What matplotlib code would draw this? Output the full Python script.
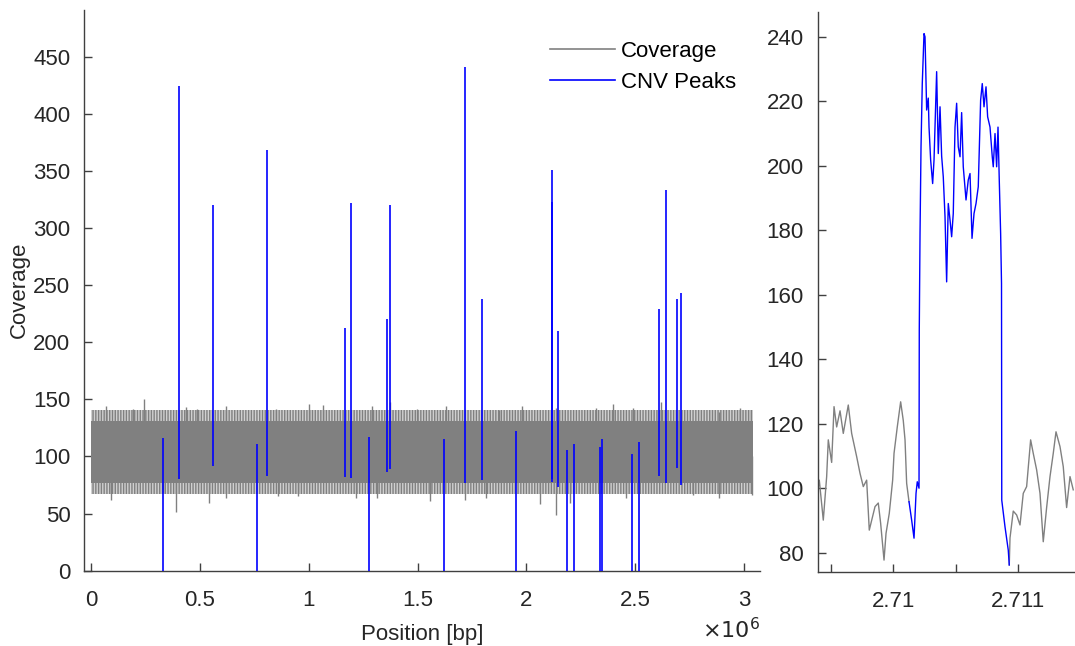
import numpy as np
import matplotlib
matplotlib.use('Agg')
import matplotlib.pyplot as plt
from matplotlib.lines import Line2D
from matplotlib.ticker import FuncFormatter

plt.rcParams['font.family'] = ['Liberation Sans', 'DejaVu Sans']
plt.rcParams['font.size'] = 16
plt.rcParams['hatch.linewidth'] = 1.0
plt.rcParams['hatch.color'] = '#808080'

# ---- data ----
# coverage band envelope (position in bp, values in coverage)
band_x = [0, 3.04e6]
band_core = (77, 131)
band_fringe = (67, 141)

# single coverage spikes outside the band (position, height)
spike_up_x = [0.069e6, 0.194e6, 0.243e6, 0.436e6, 0.488e6, 0.622e6, 0.852e6, 0.999e6,
              1.066e6, 1.292e6, 1.375e6, 1.497e6, 1.632e6, 1.876e6, 1.980e6, 2.136e6,
              2.317e6, 2.399e6, 2.491e6, 2.618e6, 2.882e6, 2.980e6]
spike_up_y = [143.8, 142, 150.2, 143, 142, 144, 142, 146,
              145, 144, 148, 142, 144, 141, 144, 142.6,
              142.6, 146, 142.6, 148, 139, 142.6]
spike_dn_x = [0.09e6, 0.33e6, 0.390e6, 0.543e6, 0.622e6, 0.86e6, 0.951e6, 1.219e6,
              1.314e6, 1.555e6, 1.717e6, 1.815e6, 2.06e6, 2.136e6, 2.202e6, 2.457e6,
              2.763e6, 2.885e6, 3.035e6]
spike_dn_y = [62, 68, 51.7, 59, 64, 65.6, 65.6, 63.5,
              63.5, 60.6, 62, 63.5, 58.5, 48.8, 59, 63.4,
              66, 63.4, 66]

# CNV peaks: position, lowest and highest coverage of the blue segment
peak_x = [0.329e6, 0.402e6, 0.561e6, 0.763e6, 0.809e6, 1.165e6, 1.196e6, 1.275e6,
          1.358e6, 1.372e6, 1.622e6, 1.717e6, 1.797e6, 1.953e6, 2.116e6, 2.119e6,
          2.147e6, 2.185e6, 2.217e6, 2.336e6, 2.347e6, 2.483e6, 2.517e6, 2.610e6,
          2.641e6, 2.691e6, 2.708e6]
peak_lo = [0, 80, 92, 0, 83, 82, 81.5, 0,
           86, 89, 0, 76.6, 79, 0, 78, 80,
           73.6, 0, 0, 0, 0, 0, 0, 83,
           77, 90, 75]
peak_hi = [116, 424, 320, 111, 368, 212.5, 322, 117,
           220, 320, 115, 441, 238, 122, 351, 323,
           209.5, 106, 111, 108, 115, 102, 113, 229,
           333, 238, 243]

# zoomed region around 2.7105 Mbp
zoom_gray1_x = [2709392, 2709408, 2709440, 2709467, 2709480, 2709507, 2709526, 2709547,
                2709574, 2709600, 2709640, 2709667, 2709707, 2709734, 2709760, 2709787,
                2709808, 2709854, 2709880, 2709899, 2709926, 2709942, 2709968, 2709995,
                2710006, 2710032, 2710059, 2710080, 2710094, 2710107, 2710126]
zoom_gray1_y = [98.4, 102.5, 90.1, 103.6, 115, 108, 125.3, 119,
                124, 117, 125.8, 117, 109.8, 104.6, 100.5, 102.5,
                87, 94.3, 95.4, 89.1, 77.7, 86, 92.2, 102.5,
                110.8, 119, 126.8, 121, 115, 101.5, 95.8]
zoom_blue_x = [2710126, 2710147, 2710166, 2710182, 2710192, 2710206, 2710208, 2710214,
               2710222, 2710232, 2710246, 2710254, 2710267, 2710280, 2710286, 2710299,
               2710315, 2710326, 2710347, 2710360, 2710374, 2710387, 2710400, 2710414,
               2710427, 2710440, 2710454, 2710467, 2710480, 2710494, 2710507, 2710520,
               2710534, 2710547, 2710560, 2710582, 2710600, 2710614, 2710630, 2710646,
               2710662, 2710680, 2710699, 2710712, 2710726, 2710742, 2710755, 2710774,
               2710792, 2710800, 2710814, 2710827, 2710838, 2710848, 2710859, 2710866,
               2710868, 2710894, 2710920, 2710928]
zoom_blue_y = [95.8, 90.1, 84.5, 98.4, 102, 100, 149, 179,
               205.9, 225.5, 241, 240, 217.3, 221, 212, 201.8,
               194.5, 201.8, 229.2, 203.8, 218.3, 203, 196.6, 184.2,
               164, 188.3, 183.2, 178, 185.2, 212, 219.4, 205.9,
               202.8, 216.5, 199.7, 189.4, 195.6, 197.6, 177.5, 185.2,
               188.3, 193.5, 220.4, 225.5, 218.3, 224.5, 215.2, 212,
               202.8, 199.7, 210, 199.7, 212, 195.6, 179, 163.5,
               96.3, 88, 80.8, 76.2]
zoom_gray2_x = [2710928, 2710934, 2710960, 2710987, 2711014, 2711040, 2711067, 2711099,
                2711120, 2711147, 2711174, 2711200, 2711227, 2711254, 2711280, 2711302,
                2711334, 2711360, 2711387, 2711414, 2711440]
zoom_gray2_y = [76.2, 84.6, 92.9, 91.7, 88.6, 98.4, 100.5, 115,
                110.8, 105.7, 98.4, 83.4, 94, 103.6, 110.8, 117.5,
                112.9, 106.7, 94, 103.6, 99.5]

gray = '#808080'
blue = '#0000ff'
axcol = '#404040'

fig = plt.figure(figsize=(10.75, 6.46), dpi=100)
ax = fig.add_axes([0.0784, 0.1166, 0.6285, 0.868])
ax2 = fig.add_axes([0.7605, 0.115, 0.2395, 0.8664])

# ---- left panel ----
ax.fill_between(band_x, band_fringe[0], band_fringe[1], facecolor='#d0d0d0',
                hatch='||||||', lw=0, zorder=1)
ax.fill_between(band_x, band_core[0], band_core[1], color=gray, lw=0, zorder=2)
ax.vlines(spike_up_x, 110, spike_up_y, color=gray, lw=1.0, zorder=2)
ax.vlines(spike_dn_x, spike_dn_y, 100, color=gray, lw=1.0, zorder=2)
ax.vlines(peak_x, peak_lo, peak_hi, color=blue, lw=1.2, zorder=3)

ax.set_xlim(-0.0307e6, 3.072e6)
ax.set_ylim(0, 491)
ax.set_yticks(np.arange(0, 451, 50))
ax.set_xticks([0, 0.5e6, 1e6, 1.5e6, 2e6, 2.5e6, 3e6])
ax.xaxis.set_major_formatter(FuncFormatter(lambda v, p: f'{v / 1e6:g}'))
ax.text(1.0, -0.106, r'$\times10^{6}$', transform=ax.transAxes, ha='right', va='center',
        color='#262626', fontsize=16)
ax.set_xlabel('Position [bp]', color='#262626', labelpad=9)
ax.set_ylabel('Coverage', color='#262626', labelpad=2)

handles = [Line2D([], [], color=gray, lw=1.2), Line2D([], [], color=blue, lw=1.2)]
ax.legend(handles, ['Coverage', 'CNV Peaks'], loc='upper left', bbox_to_anchor=(0.66, 0.981),
          frameon=False, handlelength=2.9, handletextpad=0.3, labelspacing=0.45, fontsize=16)

# ---- right panel ----
ax2.plot(zoom_gray1_x, zoom_gray1_y, color=gray, lw=1.0)
ax2.plot(zoom_gray2_x, zoom_gray2_y, color=gray, lw=1.0)
ax2.plot(zoom_blue_x, zoom_blue_y, color=blue, lw=1.0)
ax2.set_xlim(2709394, 2711454)
ax2.set_ylim(74.1, 247.7)
ax2.set_yticks(np.arange(80, 241, 20))
ax2.set_xticks([2709500, 2710000, 2710500, 2711000])
ax2.xaxis.set_major_formatter(FuncFormatter(
    lambda v, p: f'{v / 1e6:g}' if round(v) % 1000 == 0 else ''))

for a in (ax, ax2):
    for s in ('top', 'right'):
        a.spines[s].set_visible(False)
    for s in ('left', 'bottom'):
        a.spines[s].set_color(axcol)
        a.spines[s].set_linewidth(1.0)
    a.tick_params(direction='in', length=6, width=1.0, color=axcol, labelcolor='#262626',
                  labelsize=16, pad=10)
    a.tick_params(axis='x', pad=14)

fig.savefig('out.png', dpi=100)
